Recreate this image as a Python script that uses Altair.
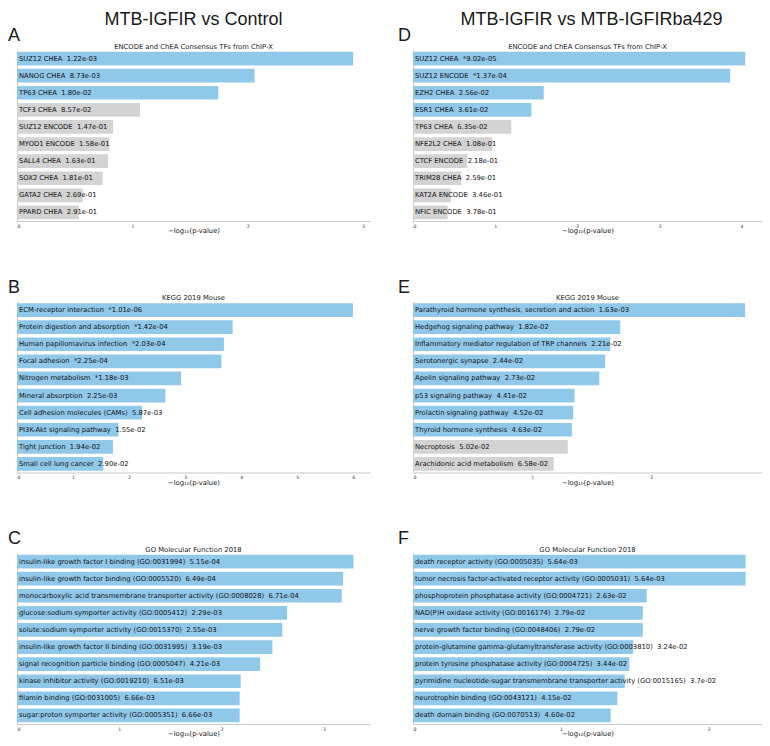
import altair as alt
import pandas as pd

# ---------------- data ----------------
col_titles = ["MTB-IGFIR vs Control", "MTB-IGFIR vs MTB-IGFIRba429"]

# Panel A
a_db = "ENCODE and ChEA Consensus TFs from ChIP-X"
a_terms = ["SUZ12 CHEA", "NANOG CHEA", "TP63 CHEA", "TCF3 CHEA", "SUZ12 ENCODE",
           "MYOD1 ENCODE", "SALL4 CHEA", "SOX2 CHEA", "GATA2 CHEA", "PPARD CHEA"]
a_p = ["1.22e-03", "8.73e-03", "1.80e-02", "8.57e-02", "1.47e-01",
       "1.58e-01", "1.63e-01", "1.81e-01", "2.69e-01", "2.91e-01"]
a_star = [False] * 10
a_val = [2.914, 2.059, 1.745, 1.067, 0.833, 0.801, 0.788, 0.742, 0.570, 0.536]

# Panel B
b_db = "KEGG 2019 Mouse"
b_terms = ["ECM-receptor interaction", "Protein digestion and absorption",
           "Human papillomavirus infection", "Focal adhesion", "Nitrogen metabolism",
           "Mineral absorption", "Cell adhesion molecules (CAMs)",
           "PI3K-Akt signaling pathway", "Tight junction", "Small cell lung cancer"]
b_p = ["1.01e-06", "1.42e-04", "2.03e-04", "2.25e-04", "1.18e-03",
       "2.25e-03", "5.87e-03", "1.55e-02", "1.94e-02", "2.90e-02"]
b_star = [True, True, True, True, True, False, False, False, False, False]
b_val = [5.996, 3.848, 3.693, 3.648, 2.928, 2.648, 2.231, 1.810, 1.712, 1.538]

# Panel C
c_db = "GO Molecular Function 2018"
c_terms = ["insulin-like growth factor I binding (GO:0031994)",
           "insulin-like growth factor binding (GO:0005520)",
           "monocarboxylic acid transmembrane transporter activity (GO:0008028)",
           "glucose:sodium symporter activity (GO:0005412)",
           "solute:sodium symporter activity (GO:0015370)",
           "insulin-like growth factor II binding (GO:0031995)",
           "signal recognition particle binding (GO:0005047)",
           "kinase inhibitor activity (GO:0019210)",
           "filamin binding (GO:0031005)",
           "sugar:proton symporter activity (GO:0005351)"]
c_p = ["5.15e-04", "6.49e-04", "6.71e-04", "2.29e-03", "2.55e-03",
       "3.19e-03", "4.21e-03", "6.51e-03", "6.66e-03", "6.66e-03"]
c_star = [False] * 10
c_val = [3.288, 3.188, 3.173, 2.640, 2.593, 2.496, 2.376, 2.186, 2.176, 2.176]

# Panel D
d_db = "ENCODE and ChEA Consensus TFs from ChIP-X"
d_terms = ["SUZ12 CHEA", "SUZ12 ENCODE", "EZH2 CHEA", "ESR1 CHEA", "TP63 CHEA",
           "NFE2L2 CHEA", "CTCF ENCODE", "TRIM28 CHEA", "KAT2A ENCODE", "NFIC ENCODE"]
d_p = ["9.02e-05", "1.37e-04", "2.56e-02", "3.61e-02", "6.35e-02",
       "1.08e-01", "2.18e-01", "2.59e-01", "3.46e-01", "3.78e-01"]
d_star = [True, True, False, False, False, False, False, False, False, False]
d_val = [4.045, 3.863, 1.592, 1.442, 1.197, 0.967, 0.662, 0.587, 0.461, 0.422]

# Panel E
e_db = "KEGG 2019 Mouse"
e_terms = ["Parathyroid hormone synthesis, secretion and action",
           "Hedgehog signaling pathway",
           "Inflammatory mediator regulation of TRP channels",
           "Serotonergic synapse", "Apelin signaling pathway", "p53 signaling pathway",
           "Prolactin signaling pathway", "Thyroid hormone synthesis", "Necroptosis",
           "Arachidonic acid metabolism"]
e_p = ["1.63e-03", "1.82e-02", "2.21e-02", "2.44e-02", "2.73e-02",
       "4.41e-02", "4.52e-02", "4.63e-02", "5.02e-02", "6.58e-02"]
e_star = [False] * 10
e_val = [2.788, 1.740, 1.656, 1.613, 1.564, 1.356, 1.345, 1.334, 1.299, 1.182]

# Panel F
f_db = "GO Molecular Function 2018"
f_terms = ["death receptor activity (GO:0005035)",
           "tumor necrosis factor-activated receptor activity (GO:0005031)",
           "phosphoprotein phosphatase activity (GO:0004721)",
           "NAD(P)H oxidase activity (GO:0016174)",
           "nerve growth factor binding (GO:0048406)",
           "protein-glutamine gamma-glutamyltransferase activity (GO:0003810)",
           "protein tyrosine phosphatase activity (GO:0004725)",
           "pyrimidine nucleotide-sugar transmembrane transporter activity (GO:0015165)",
           "neurotrophin binding (GO:0043121)",
           "death domain binding (GO:0070513)"]
f_p = ["5.64e-03", "5.64e-03", "2.63e-02", "2.79e-02", "2.79e-02",
       "3.24e-02", "3.44e-02", "3.7e-02", "4.15e-02", "4.60e-02"]
f_star = [False] * 10
f_val = [2.249, 2.249, 1.580, 1.554, 1.554, 1.489, 1.463, 1.432, 1.382, 1.337]

x_max = {"A": 3.06, "B": 6.30, "C": 3.45, "D": 4.25, "E": 2.93, "F": 2.36}

# ---------------- style ----------------
BLUE = "#90C8EA"
GRAY = "#D3D3D3"
SMALL_FONT = "DejaVu Sans"
BIG_FONT = "Liberation Sans"
FS = 6.8
H = 171
W_LEFT = 353
W_RIGHT = 349
SEP = " \u00a0"  # two visible spaces


def note(text, x, y, font, size, align="center"):
    return alt.Chart(pd.DataFrame({"t": [text]})).mark_text(
        align=align, baseline="alphabetic", font=font, fontSize=size, color="#1a1a1a"
    ).encode(text="t:N", x=alt.value(x), y=alt.value(y))


def panel(letter, db, terms, pvals, stars, vals, width, letter_dx, main_title=None, title_dx=0):
    labels = [f"{t}{SEP}{'*' if s else ''}{p}" for t, p, s in zip(terms, pvals, stars)]
    sig = ["sig" if float(p) < 0.05 else "ns" for p in pvals]
    df = pd.DataFrame({"term": terms, "label": labels, "v": vals, "sig": sig})
    xm = x_max[letter]
    ticks = list(range(int(xm) + 1))
    base = alt.Chart(df)
    y = alt.Y("term:N", sort=terms,
              scale=alt.Scale(paddingInner=0.2, paddingOuter=0.1),
              axis=alt.Axis(labels=False, ticks=False, title=None, domain=True,
                            domainColor="#c8c8c8", domainWidth=1.0))
    bars = base.mark_bar().encode(
        x=alt.X("v:Q", scale=alt.Scale(domain=[0, xm], nice=False, zero=True),
                axis=alt.Axis(values=ticks, format="d", grid=False, ticks=False,
                              domainColor="#c8c8c8", domainWidth=1.2,
                              labelFontSize=4.6, labelFont=SMALL_FONT, labelColor="#333",
                              labelPadding=2,
                              title="−log₁₀(p-value)", titleFont=SMALL_FONT,
                              titleFontSize=FS, titleFontWeight="normal",
                              titleColor="#111", titlePadding=0)),
        y=y,
        color=alt.Color("sig:N", scale=alt.Scale(domain=["sig", "ns"], range=[BLUE, GRAY]),
                        legend=None),
    )
    texts = base.mark_text(align="left", baseline="middle", dx=2, font=SMALL_FONT,
                           fontSize=FS, color="#111").encode(
        x=alt.value(0), y=y, text="label:N")
    layers = [bars, texts,
              note(db, width / 2, -1.5, SMALL_FONT, FS),
              note(letter, letter_dx, -9, BIG_FONT, 18, align="left")]
    if main_title:
        layers.append(note(main_title, width / 2 + title_dx, -25, BIG_FONT, 18))
    return alt.layer(*layers).properties(width=width, height=H)


pA = panel("A", a_db, a_terms, a_p, a_star, a_val, W_LEFT, -9, col_titles[0])
pD = panel("D", d_db, d_terms, d_p, d_star, d_val, W_RIGHT, -15, col_titles[1], 4)
pB = panel("B", b_db, b_terms, b_p, b_star, b_val, W_LEFT, -9)
pE = panel("E", e_db, e_terms, e_p, e_star, e_val, W_RIGHT, -15)
pC = panel("C", c_db, c_terms, c_p, c_star, c_val, W_LEFT, -9)
pF = panel("F", f_db, f_terms, f_p, f_star, f_val, W_RIGHT, -15)

chart = alt.concat(pA, pD, pB, pE, pC, pF, columns=2, spacing={"row": 80.5, "column": 43},
                   bounds="flush").configure_view(stroke=None).properties(
    padding={"top": 3, "left": 0, "right": 0, "bottom": 0})

chart.save("out.html", embed_options={"renderer": "svg", "actions": False})
